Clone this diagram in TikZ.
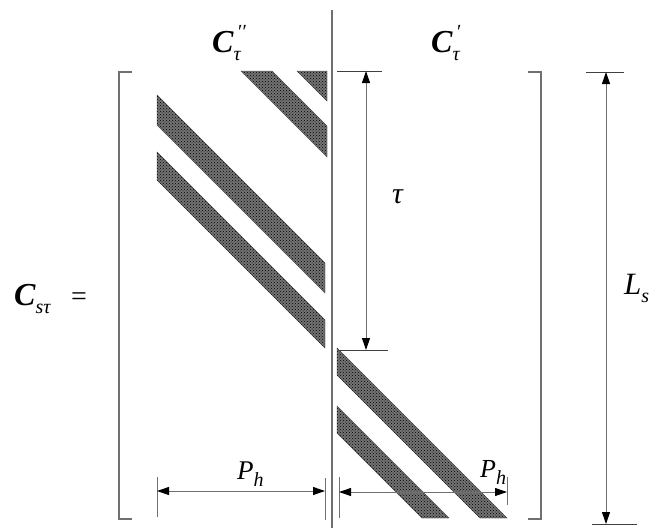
\documentclass[tikz,border=0pt]{standalone}
\usepackage{fontspec}
\setmainfont{Liberation Serif}
\usetikzlibrary{arrows.meta,patterns}
\definecolor{linegray}{HTML}{707070}
\newcommand{\subit}[1]{\raisebox{-0.28em}{\fontsize{20}{22}\selectfont\mdseries\itshape #1}}
\newcommand{\supit}[1]{\rlap{\raisebox{0.42em}{\fontsize{20}{22}\selectfont\mdseries #1}}}
\tikzset{
  stripe/.style={fill=black!55, postaction={pattern=crosshatch dots, pattern color=black}, draw=black!70, line width=0.4pt},
  rule/.style={draw=linegray, line width=1.1pt},
  tick/.style={draw=black!75, line width=0.9pt},
  dimline/.style={draw=linegray, line width=1pt, {Triangle[length=12pt,width=8pt,black]}-{Triangle[length=12pt,width=8pt,black]}},
  lbl/.style={inner sep=0pt, anchor=base west},
}
\begin{document}
\begin{tikzpicture}[x=1pt,y=-1pt]
\useasboundingbox (0,0) rectangle (650,530);
% stripes left
\draw[stripe] (297,71) -- (327,71) -- (327,101) -- cycle;
\draw[stripe] (241,71) -- (272,71) -- (327,126) -- (327,157) -- cycle;
\draw[stripe] (157,95) -- (325,263) -- (325,293) -- (157,125) -- cycle;
\draw[stripe] (157,152) -- (325,320) -- (325,348) -- (157,180) -- cycle;
% stripes right
\draw[stripe] (337,348) -- (507,518) -- (480,518) -- (337,375) -- cycle;
\draw[stripe] (337,406) -- (449,518) -- (422,518) -- (337,433) -- cycle;
% divider
\coordinate (divTop) at (332,10);
\coordinate (divBot) at (332,528);
\draw[rule] (divTop) -- (divBot);
% brackets
\coordinate (lb1) at (132,72); \coordinate (lb2) at (119,72);
\coordinate (lb3) at (119,519); \coordinate (lb4) at (132,519);
\draw[rule] (lb1) -- (lb2) -- (lb3) -- (lb4);
\coordinate (rb1) at (528,72); \coordinate (rb2) at (541,72);
\coordinate (rb3) at (541,519); \coordinate (rb4) at (528,519);
\draw[rule] (rb1) -- (rb2) -- (rb3) -- (rb4);
% tau dimension
\coordinate (tauTL) at (337,71); \coordinate (tauTR) at (382,71);
\coordinate (tauBL) at (338,350); \coordinate (tauBR) at (388,350);
\coordinate (tauTop) at (366,71); \coordinate (tauBot) at (366,350);
\draw[tick] (tauTL) -- (tauTR);
\draw[tick] (tauBL) -- (tauBR);
\draw[dimline] (tauTop) -- (tauBot);
% Ls dimension
\coordinate (lsTL) at (586,72); \coordinate (lsTR) at (624,72);
\coordinate (lsBL) at (592,524); \coordinate (lsBR) at (637,524);
\coordinate (lsTop) at (606,72); \coordinate (lsBot) at (606,524);
\draw[tick] (lsTL) -- (lsTR);
\draw[tick] (lsBL) -- (lsBR);
\draw[dimline] (lsTop) -- (lsBot);
% Ph left
\coordinate (p1a) at (157,477); \coordinate (p1b) at (157,517);
\coordinate (p2a) at (325,478); \coordinate (p2b) at (325,520);
\coordinate (p1m) at (157,491); \coordinate (p2m) at (325,491);
\draw[rule,line width=0.9pt] (p1a) -- (p1b);
\draw[rule,line width=0.9pt] (p2a) -- (p2b);
\draw[dimline] (p1m) -- (p2m);
% Ph right
\coordinate (q1a) at (339,477); \coordinate (q1b) at (339,518);
\coordinate (q2a) at (507,477); \coordinate (q2b) at (507,505);
\coordinate (q1m) at (339,492); \coordinate (q2m) at (507,492);
\draw[rule,line width=0.9pt] (q1a) -- (q1b);
\draw[rule,line width=0.9pt] (q2a) -- (q2b);
\draw[dimline] (q1m) -- (q2m);
% labels
\node[lbl] (cpp) at (212,52) {\fontsize{32}{36}\selectfont\bfseries\itshape C\supit{\,′′}\subit{τ}};
\node[lbl] (cp) at (431,52) {\fontsize{32}{36}\selectfont\bfseries\itshape C\supit{\,′}\subit{τ}};
\node[lbl] (cst) at (14,305) {\fontsize{32}{36}\selectfont\bfseries\itshape C\subit{sτ}};
\node[lbl] (eq) at (71,305) {\fontsize{28}{32}\selectfont =};
\node[lbl] (tau) at (392,203) {\fontsize{30}{34}\selectfont\itshape τ};
\node[lbl] (ls) at (624,294) {\fontsize{31}{36}\selectfont\itshape L\subit{s}};
\node[lbl] (ph1) at (237,479) {\fontsize{27}{30}\selectfont\itshape P\subit{h}};
\node[lbl] (ph2) at (480,477) {\fontsize{26}{30}\selectfont\itshape P\subit{h}};
\end{tikzpicture}
\end{document}
